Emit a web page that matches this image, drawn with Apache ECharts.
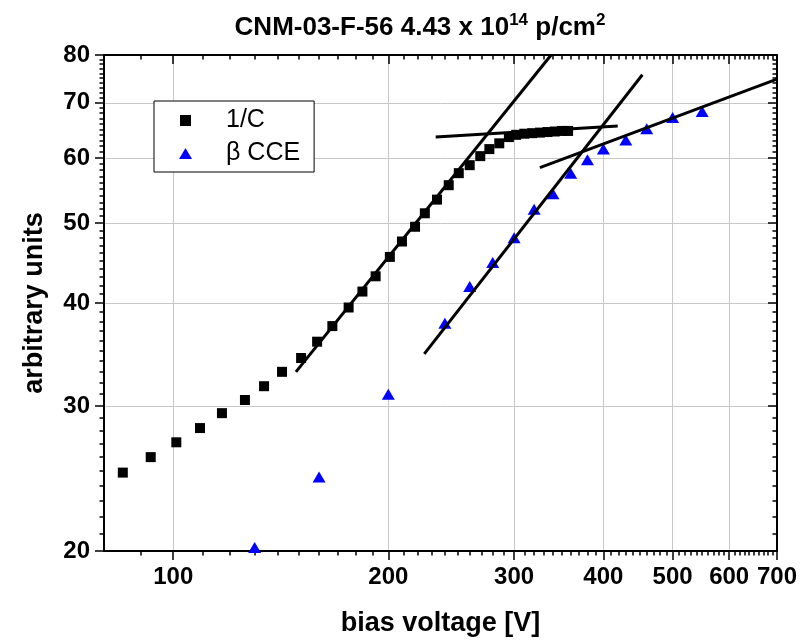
<!DOCTYPE html>
<html>
<head>
<meta charset="utf-8">
<script src="https://cdn.jsdelivr.net/npm/echarts@6/dist/echarts.min.js"></script>
<style>html,body{margin:0;padding:0;background:#fff}#c{width:812px;height:644px}</style>
</head>
<body>
<div id="c"></div>
<script>
// ---- data ----
const xTickValues = [100, 200, 300, 400, 500, 600, 700];
const xMinorTicks = [90, 110, 120, 130, 140, 150, 160, 170, 180, 190,
  210, 220, 230, 240, 250, 260, 270, 280, 290,
  310, 320, 330, 340, 350, 360, 370, 380, 390,
  410, 420, 430, 440, 450, 460, 470, 480, 490,
  510, 520, 530, 540, 550, 560, 570, 580, 590,
  610, 620, 630, 640, 650, 660, 670, 680, 690];
const yTickValues = [20, 30, 40, 50, 60, 70, 80];
const yMinorTicks = [21, 22, 23, 24, 25, 26, 27, 28, 29,
  31, 32, 33, 34, 35, 36, 37, 38, 39,
  41, 42, 43, 44, 45, 46, 47, 48, 49,
  51, 52, 53, 54, 55, 56, 57, 58, 59,
  61, 62, 63, 64, 65, 66, 67, 68, 69,
  71, 72, 73, 74, 75, 76, 77, 78, 79];

const invC = [[85, 24.9], [93, 26.0], [101, 27.1], [109, 28.2], [117, 29.4], [126, 30.5], [134, 31.7],
  [142, 33.0], [151, 34.3], [159, 35.9], [167, 37.5], [176, 39.5], [184, 41.3], [192, 43.1], [201, 45.5],
  [209, 47.5], [218, 49.5], [225, 51.4], [234, 53.4], [243, 55.6], [251, 57.5], [260, 58.8], [269, 60.3],
  [277, 61.5], [286, 62.5], [295, 63.6], [302, 64.0], [310, 64.2], [318, 64.3], [326, 64.4], [334, 64.5],
  [342, 64.6], [350, 64.7], [357, 64.7]];
const betaCCE = [[130, 20.2], [160, 24.6], [200, 31.0], [240, 37.8], [260, 41.9], [280, 44.8], [300, 48.0],
  [320, 52.0], [340, 54.3], [360, 57.5], [380, 59.7], [400, 61.5], [430, 63.1], [460, 65.1], [500, 67.2],
  [550, 68.3]];
const fitA = [[148.5, 33.0], [338, 80]];
const fitB = [[233, 63.6], [419, 65.6]];
const fitC = [[224.6, 34.7], [453.6, 75.7]];
const fitD = [[326, 58.4], [700, 74.8]];

// ---- chart ----
const FONT = "'Liberation Sans', Arial, Helvetica, sans-serif";
const chart = echarts.init(document.getElementById('c'), null, {renderer: 'canvas'});

function xAx(pos, inside, ticks, len, extra) {
  return Object.assign({
    type: 'log', logBase: 10, min: 80, max: 700, position: pos, gridIndex: 0,
    axisLine: {show: true, lineStyle: {color: '#000', width: 2}},
    axisTick: {show: true, inside: inside, length: len, customValues: ticks, lineStyle: {color: '#000', width: 1.5}},
    axisLabel: {show: false},
    splitLine: {show: false},
    minorTick: {show: false}, minorSplitLine: {show: false}
  }, extra || {});
}
function yAx(pos, inside, ticks, len, extra) {
  return Object.assign({
    type: 'log', logBase: 10, min: 20, max: 80, position: pos, gridIndex: 0,
    axisLine: {show: true, lineStyle: {color: '#000', width: 2}},
    axisTick: {show: true, inside: inside, length: len, customValues: ticks, lineStyle: {color: '#000', width: 1.5}},
    axisLabel: {show: false},
    splitLine: {show: false},
    minorTick: {show: false}, minorSplitLine: {show: false}
  }, extra || {});
}

const option = {
  backgroundColor: '#fff',
  animation: false,
  title: {
    text: '{a|CNM-03-F-56 4.43 x 10}{s|14}{a| p/cm}{s|2}',
    left: 415, top: 5, textAlign: 'center',
    textStyle: {
      rich: {
        a: {fontFamily: FONT, fontWeight: 'bold', fontSize: 26, color: '#000', lineHeight: 31, verticalAlign: 'bottom'},
        s: {fontFamily: FONT, fontWeight: 'bold', fontSize: 17, color: '#000', lineHeight: 31, verticalAlign: 'top', padding: [2, 0, 0, 0]}
      }
    }
  },
  legend: {
    left: 154, top: 101, orient: 'vertical',
    padding: [7, 14, 6, 25],
    itemGap: 8, itemWidth: 13, itemHeight: 11,
    backgroundColor: '#fff', borderColor: '#000', borderWidth: 1,
    textStyle: {fontFamily: FONT, fontSize: 25, color: '#000', padding: [0, 0, 0, 29]},
    data: [
      {name: '1/C', icon: 'path://M0,0L10,0L10,10L0,10Z'},
      {name: 'β CCE', icon: 'triangle'}
    ]
  },
  grid: {left: 104, top: 55, width: 673, height: 496, containLabel: false},
  xAxis: [
    xAx('bottom', false, xTickValues, 9, {
      name: 'bias voltage [V]', nameLocation: 'middle', nameGap: 59,
      nameTextStyle: {fontFamily: FONT, fontWeight: 'bold', fontSize: 27, color: '#000'},
      axisLabel: {show: true, customValues: xTickValues, margin: 14, fontFamily: FONT, fontWeight: 'bold', fontSize: 24, color: '#000'},
      splitLine: {show: true, lineStyle: {color: '#c8c8c8', width: 1}}
    }),
    xAx('bottom', false, xMinorTicks, 4.5, {axisLine: {show: false}}),
    xAx('top', true, xTickValues, 9),
    xAx('top', true, xMinorTicks, 4.5, {axisLine: {show: false}})
  ],
  yAxis: [
    yAx('left', false, yTickValues, 9, {
      name: 'arbitrary units', nameLocation: 'middle', nameGap: 56,
      nameTextStyle: {fontFamily: FONT, fontWeight: 'bold', fontSize: 27, color: '#000'},
      axisLabel: {show: true, customValues: yTickValues, margin: 14, fontFamily: FONT, fontWeight: 'bold', fontSize: 24, color: '#000'},
      splitLine: {show: true, lineStyle: {color: '#c8c8c8', width: 1}}
    }),
    yAx('left', false, yMinorTicks, 4.5, {axisLine: {show: false}}),
    yAx('right', true, yTickValues, 9),
    yAx('right', true, yMinorTicks, 4.5, {axisLine: {show: false}})
  ],
  series: [
    {name: '1/C', type: 'scatter', data: invC, symbol: 'rect', symbolSize: 10,
      itemStyle: {color: '#000', opacity: 1}, z: 3},
    {name: 'β CCE', type: 'scatter', data: betaCCE, symbol: 'triangle', symbolSize: [13, 11],
      itemStyle: {color: '#0000ff', opacity: 1}, z: 3},
    {name: 'fitA', type: 'line', data: fitA, showSymbol: false, symbol: 'none', lineStyle: {color: '#000', width: 3}, z: 4, silent: true},
    {name: 'fitB', type: 'line', data: fitB, showSymbol: false, symbol: 'none', lineStyle: {color: '#000', width: 3}, z: 4, silent: true},
    {name: 'fitC', type: 'line', data: fitC, showSymbol: false, symbol: 'none', lineStyle: {color: '#000', width: 3}, z: 4, silent: true},
    {name: 'fitD', type: 'line', data: fitD, showSymbol: false, symbol: 'none', lineStyle: {color: '#000', width: 3}, z: 4, silent: true}
  ]
};
chart.setOption(option);
</script>
</body>
</html>
